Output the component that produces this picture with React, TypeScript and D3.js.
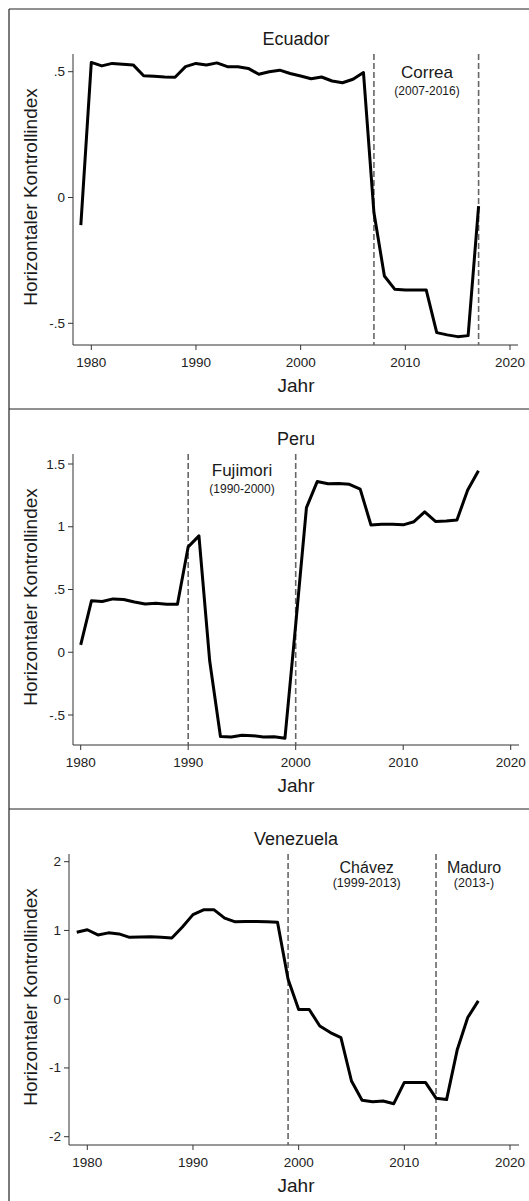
import React from "react";
import * as d3 from "d3";

const ecuadorYears = d3.range(1979, 2018);
const ecuadorValues = [
  -0.11, 0.537, 0.523, 0.533, 0.53, 0.527, 0.484, 0.482, 0.479, 0.478,
  0.52, 0.533, 0.527, 0.535, 0.52, 0.52, 0.513, 0.49, 0.5, 0.506,
  0.493, 0.483, 0.472, 0.479, 0.463, 0.456, 0.47, 0.497, -0.06, -0.312,
  -0.365, -0.368, -0.368, -0.368, -0.537, -0.546, -0.553, -0.549, -0.034,
];

const peruYears = d3.range(1980, 2018);
const peruValues = [
  0.058, 0.41, 0.405, 0.425, 0.42, 0.4, 0.385, 0.39, 0.382, 0.382,
  0.84, 0.927, -0.07, -0.672, -0.675, -0.662, -0.665, -0.675, -0.673, -0.685,
  0.22, 1.152, 1.36, 1.342, 1.345, 1.338, 1.3, 1.014, 1.02, 1.02,
  1.015, 1.04, 1.118, 1.042, 1.045, 1.054, 1.293, 1.447,
];

const venezuelaYears = d3.range(1979, 2018);
const venezuelaValues = [
  0.975, 1.01, 0.935, 0.965, 0.95, 0.9, 0.905, 0.91, 0.9, 0.89,
  1.05, 1.23, 1.3, 1.3, 1.18, 1.125, 1.13, 1.13, 1.128, 1.12,
  0.29, -0.15, -0.15, -0.39, -0.485, -0.56, -1.19, -1.47, -1.49, -1.48,
  -1.52, -1.21, -1.21, -1.21, -1.44, -1.46, -0.74, -0.267, -0.025,
];

const xTicks = [1980, 1990, 2000, 2010, 2020];
const ecuadorYTicks = [-0.5, 0, 0.5];
const peruYTicks = [-0.5, 0, 0.5, 1, 1.5];
const venezuelaYTicks = [-2, -1, 0, 1, 2];

const fmt = (v: number) => {
  if (v === 0) return "0";
  const s = String(v);
  return s.replace(/^0\./, ".").replace(/^-0\./, "-.");
};

type PanelProps = {
  top: number;
  title: string;
  years: number[];
  values: number[];
  yTicks: number[];
  yDomain: [number, number];
  yRange: [number, number];
  xRange: [number, number];
  axisX: number;
  axisEnd: number;
  dashes: number[];
  periods: { name: string; sub: string; x: number; nameY: number; subY: number; nameSize: number; subSize: number }[];
};

const FONT = "'Liberation Sans', Arial, Helvetica, sans-serif";

function Panel(p: PanelProps) {
  const x = d3.scaleLinear().domain([1980, 2020]).range(p.xRange);
  const y = d3.scaleLinear().domain(p.yDomain).range(p.yRange);
  const axisTop = 45;
  const axisBottom = 336;
  const line = d3
    .line<number>()
    .x((_, i) => x(p.years[i]))
    .y((d) => y(d));
  return (
    <g transform={`translate(0,${p.top})`}>
      <text x={296} y={30} textAnchor="middle" dominantBaseline="central" fontSize={18} fill="#1a1a1a" fontFamily={FONT}>
        {p.title}
      </text>
      <text
        transform={`translate(30,188) rotate(-90)`}
        textAnchor="middle"
        dominantBaseline="central"
        fontSize={19}
        fill="#1a1a1a"
        fontFamily={FONT}
      >
        Horizontaler Kontrollindex
      </text>
      <text x={296} y={376} textAnchor="middle" dominantBaseline="central" fontSize={19} fill="#1a1a1a" fontFamily={FONT}>
        Jahr
      </text>
      <line x1={p.axisX} x2={p.axisX} y1={axisTop} y2={axisBottom} stroke="#333" strokeWidth={1} />
      <line x1={p.axisX} x2={p.axisEnd} y1={axisBottom} y2={axisBottom} stroke="#333" strokeWidth={1} />
      {p.yTicks.map((t) => (
        <g key={t}>
          <line x1={p.axisX - 5} x2={p.axisX} y1={y(t)} y2={y(t)} stroke="#333" />
          <text x={p.axisX - 8} y={y(t)} textAnchor="end" dominantBaseline="central" fontSize={13.5} fill="#222" fontFamily={FONT}>
            {fmt(t)}
          </text>
        </g>
      ))}
      {xTicks.map((t) => (
        <g key={t}>
          <line x1={x(t)} x2={x(t)} y1={axisBottom} y2={axisBottom + 5} stroke="#333" />
          <text x={x(t)} y={353} textAnchor="middle" dominantBaseline="central" fontSize={13.5} fill="#222" fontFamily={FONT}>
            {t}
          </text>
        </g>
      ))}
      {p.dashes.map((d) => (
        <line key={d} x1={x(d)} x2={x(d)} y1={axisTop} y2={axisBottom} stroke="#666" strokeWidth={1.6} strokeDasharray="6,3" />
      ))}
      {p.periods.map((pr) => (
        <g key={pr.name}>
          <text x={pr.x} y={pr.nameY} textAnchor="middle" dominantBaseline="central" fontSize={pr.nameSize} fill="#1a1a1a" fontFamily={FONT}>
            {pr.name}
          </text>
          <text x={pr.x} y={pr.subY} textAnchor="middle" dominantBaseline="central" fontSize={pr.subSize} fill="#1a1a1a" fontFamily={FONT}>
            {pr.sub}
          </text>
        </g>
      ))}
      <path d={line(p.values) || ""} fill="none" stroke="#000" strokeWidth={3} strokeLinejoin="round" />
    </g>
  );
}

export default function App() {
  return (
    <svg width={529} height={1201} style={{ position: "absolute", left: 0, top: 0, background: "#fff" }}>
      <rect x={0} y={0} width={529} height={1201} fill="#fff" />
      <Panel
        top={9}
        title="Ecuador"
        years={ecuadorYears}
        values={ecuadorValues}
        yTicks={ecuadorYTicks}
        yDomain={[0.5, -0.5]}
        yRange={[62.7, 314.3]}
        xRange={[91.3, 510]}
        axisX={73}
        axisEnd={518}
        dashes={[2007, 2017]}
        periods={[{ name: "Correa", sub: "(2007-2016)", x: 427, nameY: 63, subY: 82, nameSize: 17, subSize: 12 }]}
      />
      <Panel
        top={409}
        title="Peru"
        years={peruYears}
        values={peruValues}
        yTicks={peruYTicks}
        yDomain={[1.5, -0.5]}
        yRange={[55, 306]}
        xRange={[80.7, 510.7]}
        axisX={73}
        axisEnd={519}
        dashes={[1990, 2000]}
        periods={[{ name: "Fujimori", sub: "(1990-2000)", x: 242, nameY: 61, subY: 80, nameSize: 17, subSize: 12 }]}
      />
      <Panel
        top={809}
        title="Venezuela"
        years={venezuelaYears}
        values={venezuelaValues}
        yTicks={venezuelaYTicks}
        yDomain={[2, -2]}
        yRange={[52.7, 327.7]}
        xRange={[87.3, 510]}
        axisX={69}
        axisEnd={519}
        dashes={[1999, 2013]}
        periods={[
          { name: "Chávez", sub: "(1999-2013)", x: 366.7, nameY: 58, subY: 74, nameSize: 16, subSize: 12.5 },
          { name: "Maduro", sub: "(2013-)", x: 474, nameY: 58, subY: 74, nameSize: 16, subSize: 12.5 },
        ]}
      />
      <line x1={9} x2={529} y1={9} y2={9} stroke="#222" strokeWidth={1.2} />
      <line x1={9} x2={9} y1={9} y2={1201} stroke="#222" strokeWidth={1.2} />
      <line x1={9} x2={529} y1={409} y2={409} stroke="#222" strokeWidth={1.2} />
      <line x1={9} x2={529} y1={809} y2={809} stroke="#222" strokeWidth={1.2} />
    </svg>
  );
}
